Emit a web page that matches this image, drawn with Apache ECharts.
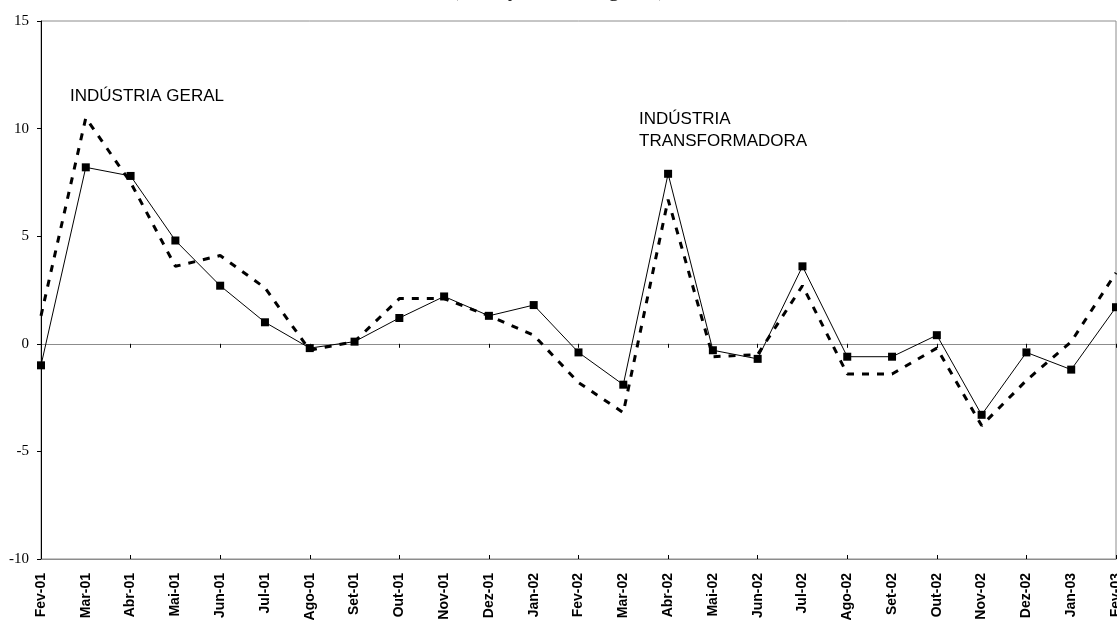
<!DOCTYPE html>
<html>
<head>
<meta charset="utf-8">
<script src="https://cdn.jsdelivr.net/npm/echarts@6/dist/echarts.min.js"></script>
<style>
html,body{margin:0;padding:0;background:#fff;overflow:hidden;}
#chart{width:1117px;height:620px;}
</style>
</head>
<body>
<div id="chart"></div>
<script>
const categories = ['Fev-01','Mar-01','Abr-01','Mai-01','Jun-01','Jul-01','Ago-01','Set-01','Out-01','Nov-01','Dez-01','Jan-02','Fev-02','Mar-02','Abr-02','Mai-02','Jun-02','Jul-02','Ago-02','Set-02','Out-02','Nov-02','Dez-02','Jan-03','Fev-03'];
const industriaGeral = [1.3, 10.5, 7.5, 3.6, 4.1, 2.6, -0.3, 0.1, 2.1, 2.1, 1.3, 0.4, -1.8, -3.2, 6.7, -0.6, -0.5, 2.7, -1.4, -1.4, -0.2, -3.8, -1.7, 0.1, 3.3];
const industriaTransformadora = [-1.0, 8.2, 7.8, 4.8, 2.7, 1.0, -0.2, 0.1, 1.2, 2.2, 1.3, 1.8, -0.4, -1.9, 7.9, -0.3, -0.7, 3.6, -0.6, -0.6, 0.4, -3.3, -0.4, -1.2, 1.7];
const yTicks = {min: -10, max: 15, interval: 5};
const titleText = '(Variação homóloga, %)';
const labelGeral = 'INDÚSTRIA GERAL';
const labelTransf = 'INDÚSTRIA\nTRANSFORMADORA';

const chart = echarts.init(document.getElementById('chart'), null, {renderer: 'canvas', width: 1117, height: 620});
const gray = '#8c8c8c';
chart.setOption({
  animation: false,
  backgroundColor: '#fff',
  title: {
    text: titleText, left: 'center', top: -26,
    textStyle: {fontFamily: 'Liberation Serif', fontSize: 22, fontWeight: 'normal', color: '#000'}
  },
  grid: {left: 41, right: 1, top: 21, bottom: 61, show: true, borderColor: gray, borderWidth: 1, containLabel: false, outerBoundsMode: 'none'},
  xAxis: [
    {
      type: 'category', data: categories, boundaryGap: false, position: 'bottom',
      axisLine: {show: true, onZero: true, lineStyle: {color: gray, width: 1}},
      axisTick: {show: true, inside: false, length: 4, lineStyle: {color: '#000'}},
      axisLabel: {show: false}, splitLine: {show: false}
    },
    {
      type: 'category', data: categories, boundaryGap: false, position: 'bottom',
      axisLine: {show: false, onZero: true},
      axisTick: {show: true, inside: true, length: 4, lineStyle: {color: '#000'}},
      axisLabel: {show: false}, splitLine: {show: false}
    },
    {
      type: 'category', data: categories, boundaryGap: false, position: 'bottom',
      axisLine: {show: true, onZero: false, lineStyle: {color: gray, width: 1}},
      axisTick: {show: false},
      axisLabel: {show: true, interval: 0, rotate: 90, margin: 14, fontFamily: 'Liberation Sans', fontWeight: 'bold', fontSize: 14, color: '#000', hideOverlap: false},
      splitLine: {show: false}
    }
  ],
  yAxis: {
    type: 'value', min: yTicks.min, max: yTicks.max, interval: yTicks.interval,
    axisLine: {show: true, onZero: false, lineStyle: {color: '#000', width: 1}},
    axisTick: {show: true, inside: false, length: 4, lineStyle: {color: '#000'}},
    axisLabel: {fontFamily: 'Liberation Serif', fontSize: 15, color: '#000', margin: 12},
    splitLine: {show: false}
  },
  series: [
    {
      name: 'Indústria Geral', type: 'line', xAxisIndex: 0, data: industriaGeral,
      showSymbol: false, symbol: 'none', clip: false, z: 2,
      lineStyle: {color: '#000', width: 3, type: [7, 8], cap: 'butt'}
    },
    {
      name: 'Indústria Transformadora', type: 'line', xAxisIndex: 0, data: industriaTransformadora,
      symbol: 'rect', symbolSize: 8, clip: false, z: 3,
      lineStyle: {color: '#000', width: 1},
      itemStyle: {color: '#000'}
    }
  ],
  graphic: [
    {type: 'text', left: 70, top: 88, style: {text: labelGeral, fontFamily: 'Liberation Sans', fontSize: 17, fill: '#000'}},
    {type: 'text', left: 639, top: 108, style: {text: labelTransf, fontFamily: 'Liberation Sans', fontSize: 17, lineHeight: 22, fill: '#000'}}
  ]
});
</script>
</body>
</html>
